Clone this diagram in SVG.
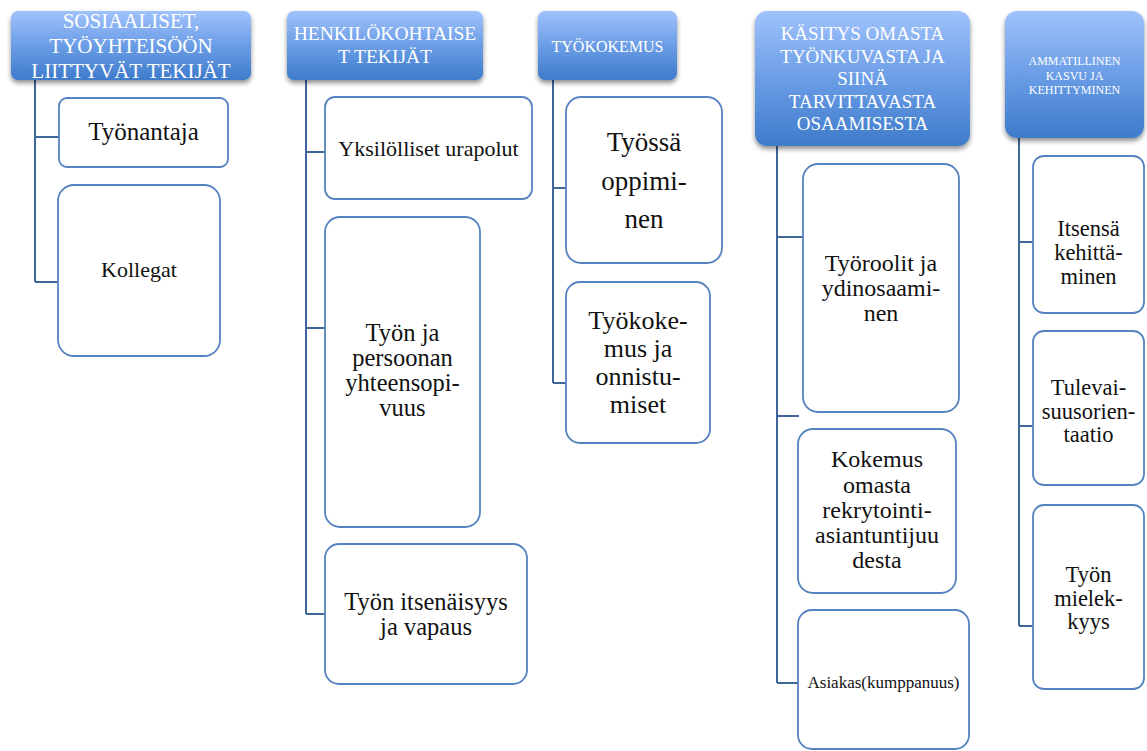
<svg xmlns="http://www.w3.org/2000/svg" width="1147" height="751" viewBox="0 0 1147 751">
<defs>
<linearGradient id="hg" x1="0" y1="0" x2="0" y2="1">
<stop offset="0" stop-color="#a0c2fc"/>
<stop offset="0.5" stop-color="#6b9de6"/>
<stop offset="1" stop-color="#3e7bcb"/>
</linearGradient>
<filter id="sh" x="-10%" y="-10%" width="120%" height="130%">
<feGaussianBlur in="SourceAlpha" stdDeviation="2.5"/>
<feOffset dy="3" result="b"/>
<feComponentTransfer><feFuncA type="linear" slope="0.45"/></feComponentTransfer>
<feMerge><feMergeNode/><feMergeNode in="SourceGraphic"/></feMerge>
</filter>
</defs>
<style>
.hd{fill:url(#hg);filter:url(#sh);}
.ht{fill:#fff;font-family:"Liberation Serif","DejaVu Serif",serif;text-anchor:middle;}
.bx{fill:#fff;stroke:#5583bf;stroke-width:1.8;}
.bt{fill:#111;font-family:"Liberation Serif","DejaVu Serif",serif;text-anchor:middle;}
.cn{fill:none;stroke:#3f679c;stroke-width:2;}
</style>
<g id="connectors">
<path class="cn" d="M35 80V282M35 137H59M35 282H58"/>
<path class="cn" d="M306 80V614M306 152H325M306 328H325M306 614H325"/>
<path class="cn" d="M553 80V383M553 188H566M553 383H566"/>
<path class="cn" d="M777 146V683M777 237H803M777 416H799M777 683H798"/>
<path class="cn" d="M1019 138V626M1019 242H1033M1019 426H1033M1019 626H1033"/>
</g>
<g id="h1"><rect class="hd" x="11" y="11" width="240" height="69" rx="7"/>
<text class="ht" font-size="21"><tspan x="131" y="28">SOSIAALISET,</tspan><tspan x="131" y="53">TYÖYHTEISÖÖN</tspan><tspan x="131" y="77.5">LIITTYVÄT TEKIJÄT</tspan></text></g>
<g id="h2"><rect class="hd" x="287" y="11" width="196" height="69" rx="7"/>
<text class="ht" font-size="19.5"><tspan x="385" y="40">HENKILÖKOHTAISE</tspan><tspan x="385" y="63">T TEKIJÄT</tspan></text></g>
<g id="h3"><rect class="hd" x="538" y="11" width="139" height="69" rx="7"/>
<text class="ht" font-size="16" x="607.5" y="52">TYÖKOKEMUS</text></g>
<g id="h4"><rect class="hd" x="755" y="11" width="215" height="135" rx="12"/>
<text class="ht" font-size="19"><tspan x="862.5" y="40">KÄSITYS OMASTA</tspan><tspan x="862.5" y="62.5">TYÖNKUVASTA JA</tspan><tspan x="862.5" y="85">SIINÄ</tspan><tspan x="862.5" y="107.5">TARVITTAVASTA</tspan><tspan x="862.5" y="130">OSAAMISESTA</tspan></text></g>
<g id="h5"><rect class="hd" x="1005" y="11" width="139" height="127" rx="12"/>
<text class="ht" font-size="12"><tspan x="1074.5" y="65">AMMATILLINEN</tspan><tspan x="1074.5" y="79.5">KASVU JA</tspan><tspan x="1074.5" y="93.5">KEHITTYMINEN</tspan></text></g>
<g id="c1a"><rect class="bx" x="59" y="98" width="169" height="69" rx="8"/>
<text class="bt" font-size="25" x="143.5" y="140">Työnantaja</text></g>
<g id="c1b"><rect class="bx" x="58" y="185" width="162" height="171" rx="16"/>
<text class="bt" font-size="22" x="139" y="277">Kollegat</text></g>
<g id="c2a"><rect class="bx" x="325" y="97" width="207" height="102" rx="10"/>
<text class="bt" font-size="22" x="428.5" y="156">Yksilölliset urapolut</text></g>
<g id="c2b"><rect class="bx" x="325" y="217" width="155" height="310" rx="15"/>
<text class="bt" font-size="24.5"><tspan x="402.5" y="341">Työn ja</tspan><tspan x="402.5" y="366">persoonan</tspan><tspan x="402.5" y="391">yhteensopi-</tspan><tspan x="402.5" y="416">vuus</tspan></text></g>
<g id="c2c"><rect class="bx" x="325" y="544" width="202" height="140" rx="14"/>
<text class="bt" font-size="24.5"><tspan x="426" y="610">Työn itsenäisyys</tspan><tspan x="426" y="635">ja vapaus</tspan></text></g>
<g id="c3a"><rect class="bx" x="566" y="97" width="156" height="166" rx="15"/>
<text class="bt" font-size="27"><tspan x="644" y="151">Työssä</tspan><tspan x="644" y="190">oppimi-</tspan><tspan x="644" y="228">nen</tspan></text></g>
<g id="c3b"><rect class="bx" x="566" y="282" width="144" height="161" rx="14"/>
<text class="bt" font-size="26"><tspan x="638" y="329">Työkoke-</tspan><tspan x="638" y="357">mus ja</tspan><tspan x="638" y="385">onnistu-</tspan><tspan x="638" y="413">miset</tspan></text></g>
<g id="c4a"><rect class="bx" x="803" y="164" width="156" height="248" rx="15"/>
<text class="bt" font-size="24"><tspan x="881" y="271">Työroolit ja</tspan><tspan x="881" y="296">ydinosaami-</tspan><tspan x="881" y="321">nen</tspan></text></g>
<g id="c4b"><rect class="bx" x="798" y="429" width="158" height="164" rx="15"/>
<text class="bt" font-size="24"><tspan x="877" y="467">Kokemus</tspan><tspan x="877" y="492.5">omasta</tspan><tspan x="877" y="518">rekrytointi-</tspan><tspan x="877" y="543">asiantuntijuu</tspan><tspan x="877" y="568">desta</tspan></text></g>
<g id="c4c"><rect class="bx" x="798" y="610" width="171" height="139" rx="14"/>
<text class="bt" font-size="17" x="883.5" y="688">Asiakas(kumppanuus)</text></g>
<g id="c5a"><rect class="bx" x="1033" y="156" width="111" height="157" rx="11"/>
<text class="bt" font-size="22.5"><tspan x="1088.5" y="236">Itsensä</tspan><tspan x="1088.5" y="260">kehittä-</tspan><tspan x="1088.5" y="284">minen</tspan></text></g>
<g id="c5b"><rect class="bx" x="1033" y="331" width="111" height="154" rx="11"/>
<text class="bt" font-size="22.5"><tspan x="1088.5" y="395">Tulevai-</tspan><tspan x="1088.5" y="418.5">suusorien-</tspan><tspan x="1088.5" y="442">taatio</tspan></text></g>
<g id="c5c"><rect class="bx" x="1033" y="505" width="111" height="184" rx="11"/>
<text class="bt" font-size="22.5"><tspan x="1088.5" y="582">Työn</tspan><tspan x="1088.5" y="605.5">mielek-</tspan><tspan x="1088.5" y="629">kyys</tspan></text></g>
</svg>
